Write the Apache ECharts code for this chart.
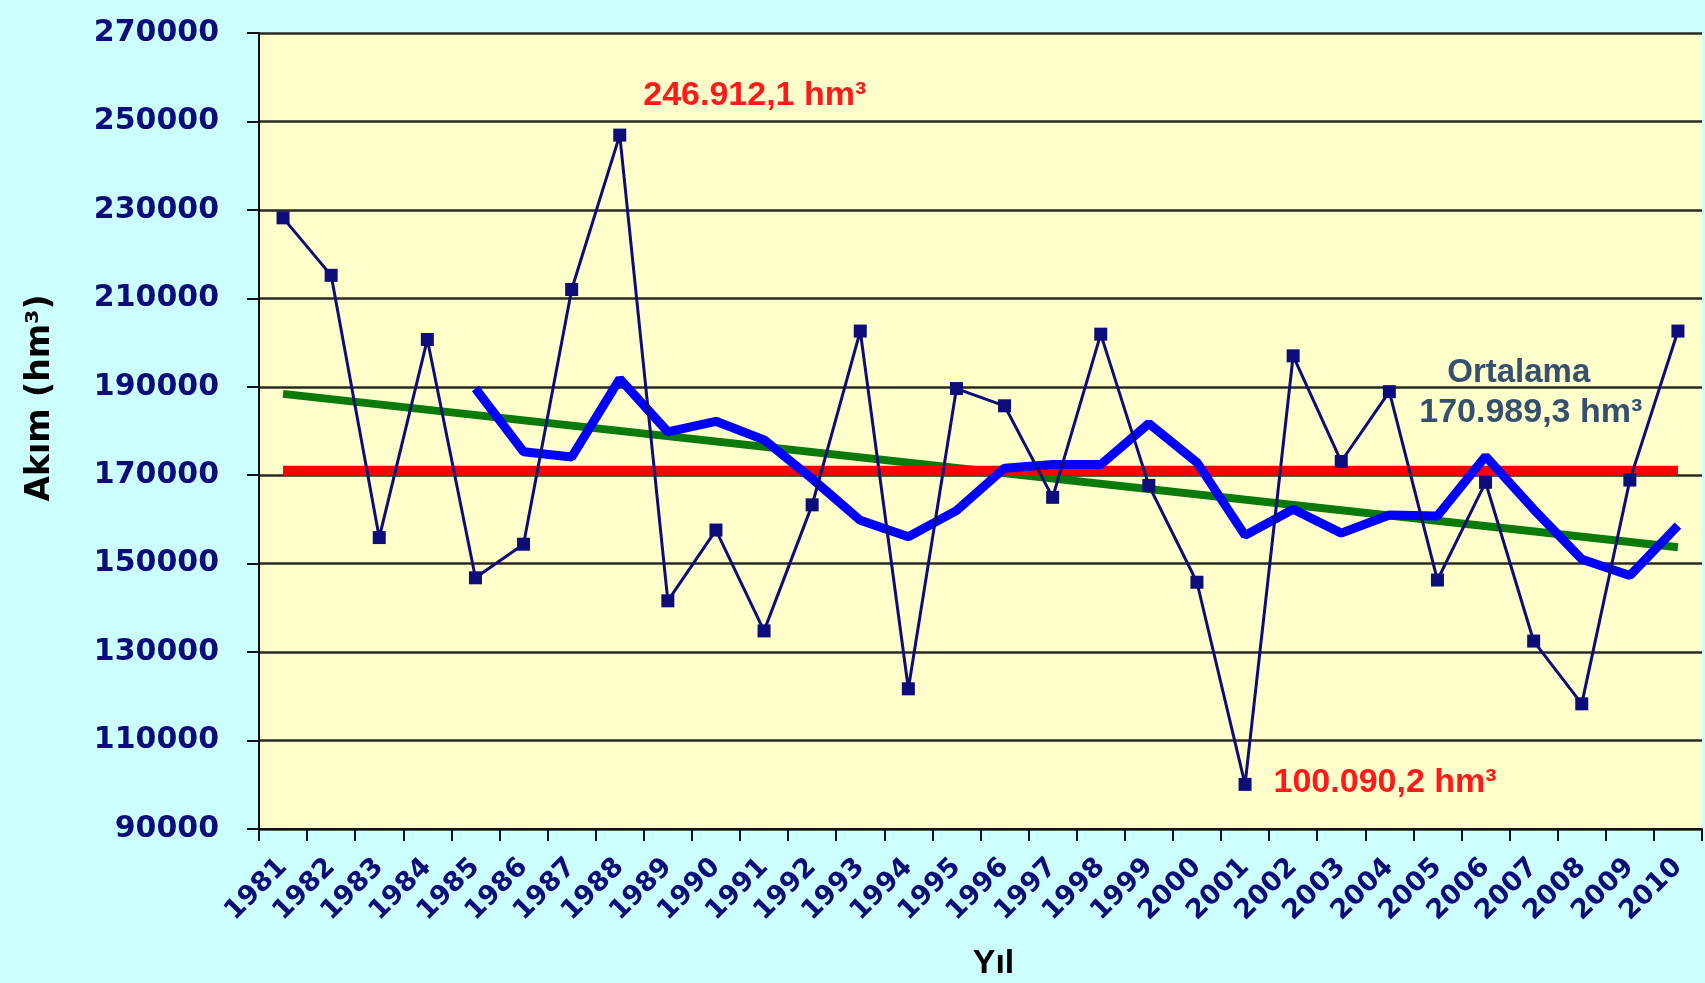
<!DOCTYPE html>
<html>
<head>
<meta charset="utf-8">
<script src="https://cdn.jsdelivr.net/npm/echarts@6/dist/echarts.min.js"></script>
<style>
html,body{margin:0;padding:0;background:#ccffff;}
#chart{width:1705px;height:983px;}
</style>
</head>
<body>
<div id="chart"></div>
<script>
// ---- data ----
const years = ['1981','1982','1983','1984','1985','1986','1987','1988','1989','1990',
  '1991','1992','1993','1994','1995','1996','1997','1998','1999','2000',
  '2001','2002','2003','2004','2005','2006','2007','2008','2009','2010'];
const akim = [228200,215200,155900,200700,146800,154400,212000,246912.1,141600,157600,
  134800,163300,202600,121700,189600,185700,165000,201900,167700,145800,
  100090.2,197000,173100,188900,146300,168400,132500,118300,168900,202600];
const movingAvg = [null,null,null,null,189600,175300,174100,191800,179800,182200,
  178000,169200,159800,156100,162000,171600,172400,172400,181700,172900,
  156400,162300,156900,161000,160800,174300,162300,151000,147300,158600];
const trendStart = 188400, trendEnd = 153700;
const meanValue = 170989.3;
const yTicks = { min: 90000, max: 270000, step: 20000 };
const labelMax = '246.912,1 hm³';
const labelMin = '100.090,2 hm³';
const labelMeanTitle = 'Ortalama';
const labelMeanValue = '170.989,3 hm³';
const yName = 'Akım (hm³)';
const xName = 'Yıl';

// endpoints-only series (straight lines drawn by the library between first and last year)
const last = years.length - 1;
const trend = years.map((y, i) => i === 0 ? trendStart : (i === last ? trendEnd : null));
const meanLine = years.map((y, i) => (i === 0 || i === last) ? meanValue : null);

const navy = '#0c0c7a';
const chart = echarts.init(document.getElementById('chart'));
chart.setOption({
  backgroundColor: '#ccffff',
  animation: false,
  grid: { left: 259, right: 3, top: 33, bottom: 154, show: true, backgroundColor: '#ffffcc', borderWidth: 0,
    containLabel: false, outerBoundsMode: 'none' },
  xAxis: {
    type: 'category', data: years, boundaryGap: true,
    name: xName, nameLocation: 'middle', nameGap: 118,
    nameTextStyle: { color: '#000', fontSize: 34, fontWeight: 'bold', fontFamily: 'Liberation Sans', padding: [0, 0, 0, 26] },
    axisLine: { lineStyle: { color: '#111', width: 2 } },
    axisTick: { show: true, length: 12, lineStyle: { color: '#111', width: 2 } },
    axisLabel: { rotate: 45, margin: 34, color: navy, fontSize: 27, fontWeight: 'bold', fontFamily: 'DejaVu Sans', interval: 0 },
    splitLine: { show: false }
  },
  yAxis: {
    type: 'value', min: yTicks.min, max: yTicks.max, interval: yTicks.step,
    axisLine: { show: true, lineStyle: { color: '#111', width: 2 } },
    axisTick: { show: true, length: 12, lineStyle: { color: '#111', width: 2 } },
    axisLabel: { margin: 40, color: navy, fontSize: 30, fontWeight: 'bold', fontFamily: 'DejaVu Sans',
      formatter: v => String(v) },
    splitLine: { show: true, lineStyle: { color: '#2a2a22', width: 2.5 } }
  },
  graphic: [{
    type: 'text', x: 40, y: 398, rotation: Math.PI / 2,
    style: { text: yName, fill: '#000', font: 'bold 33px "DejaVu Sans"', align: 'center', verticalAlign: 'middle' }
  }],
  series: [
    {
      name: 'trend', type: 'line', data: trend, connectNulls: true, symbol: 'none', z: 2,
      lineStyle: { color: '#0a7a0a', width: 8 }
    },
    {
      name: 'mean', type: 'line', data: meanLine, connectNulls: true, symbol: 'none', z: 3,
      lineStyle: { color: '#ff0000', width: 10 },
      markPoint: {
        symbol: 'circle', symbolSize: 1, itemStyle: { color: 'rgba(0,0,0,0)' },
        data: [
          { coord: ['2008', meanValue], label: { show: true, formatter: labelMeanTitle, position: 'inside', offset: [-63, -98],
              color: '#34506e', fontSize: 33, fontWeight: 'bold', fontFamily: 'Liberation Sans' } },
          { coord: ['2008', meanValue], label: { show: true, formatter: labelMeanValue, position: 'inside', offset: [-51, -58],
              color: '#34506e', fontSize: 34, fontWeight: 'bold', fontFamily: 'Liberation Sans' } }
        ]
      }
    },
    {
      name: 'ma', type: 'line', data: movingAvg, symbol: 'none', z: 4,
      lineStyle: { color: '#0000ff', width: 9 }
    },
    {
      name: 'akim', type: 'line', data: akim, symbol: 'rect', symbolSize: 13, z: 5,
      lineStyle: { color: navy, width: 3 }, itemStyle: { color: navy },
      markPoint: {
        symbol: 'circle', symbolSize: 1, itemStyle: { color: 'rgba(0,0,0,0)' },
        data: [
          { coord: ['1988', 246912.1], label: { show: true, formatter: labelMax, position: 'inside', offset: [135, -39],
              color: '#ff1a1a', fontSize: 34, fontWeight: 'bold', fontFamily: 'Liberation Sans' } },
          { coord: ['2001', 100090.2], label: { show: true, formatter: labelMin, position: 'right', distance: 28, offset: [0, -2],
              color: '#ff1a1a', fontSize: 34, fontWeight: 'bold', fontFamily: 'Liberation Sans' } }
        ]
      }
    }
  ]
});
</script>
</body>
</html>
